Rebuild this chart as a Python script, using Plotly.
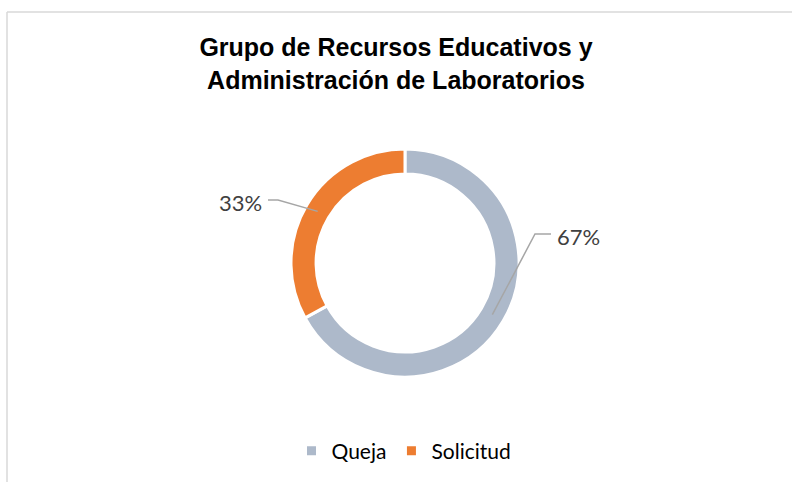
import math
import plotly.graph_objects as go

# ---- data ----
categories = ["Queja", "Solicitud"]
values = [67, 33]
colors = ["#ADB9CA", "#ED7D31"]
title_text = "Grupo de Recursos Educativos y<br>Administración de Laboratorios"

W, H = 792, 482
# donut geometry (pixels)
CX, CY, R = 405, 263, 114
HOLE = 0.78

def px(x):
    return x / W

def py(y):
    return 1 - y / H

fig = go.Figure()
fig.add_trace(go.Pie(
    labels=categories,
    values=values,
    marker=dict(colors=colors, line=dict(color="white", width=3)),
    hole=HOLE,
    sort=False,
    direction="clockwise",
    rotation=0,
    textinfo="none",
    hoverinfo="label+percent",
    domain=dict(x=[px(CX - R), px(CX + R)], y=[py(CY + R), py(CY - R)]),
    showlegend=True,
))

# leader lines + percentage labels, derived from the data
total = sum(values)
# (elbow dx, elbow dy, horizontal run) per slice, in pixels relative to center
label_style = [
    dict(ex=130, ey=-29, run=16, anchor="left"),
    dict(ex=-127, ey=-63, run=-10, anchor="right"),
]
shapes = []
annotations = []
cum = 0
r_mid = R * (1 + HOLE) / 2
for v, st in zip(values, label_style):
    theta = math.radians((cum + v / 2) / total * 360)
    cum += v
    sx = CX + r_mid * math.sin(theta)
    sy = CY - r_mid * math.cos(theta)
    ex, ey = CX + st["ex"], CY + st["ey"]
    hx = ex + st["run"]
    path = f"M {px(sx)} {py(sy)} L {px(ex)} {py(ey)} L {px(hx)} {py(ey)}"
    shapes.append(dict(type="path", xref="paper", yref="paper", path=path,
                       line=dict(color="#A6A6A6", width=1.5)))
    pct = round(v / total * 100)
    tx = hx + (4 if st["anchor"] == "left" else -4)
    annotations.append(dict(
        x=px(tx), y=py(ey + 2), xref="paper", yref="paper",
        text=f"{pct}%", showarrow=False, xanchor=st["anchor"], yanchor="middle",
        font=dict(family="Lato", size=22, color="#404040"),
    ))

# chart-area border (top and left edges visible)
shapes.append(dict(type="line", xref="paper", yref="paper",
                   x0=px(7), x1=1.01, y0=py(12), y1=py(12),
                   line=dict(color="#D9D9D9", width=1.5)))
shapes.append(dict(type="line", xref="paper", yref="paper",
                   x0=px(7), x1=px(7), y0=py(12), y1=-0.01,
                   line=dict(color="#D9D9D9", width=1.5)))

fig.update_layout(
    width=W, height=H,
    margin=dict(l=0, r=0, t=0, b=0),
    paper_bgcolor="white",
    plot_bgcolor="white",
    title=dict(
        text=f"<b>{title_text}</b>",
        x=0.5, xanchor="center",
        y=1 - 56 / H, yanchor="top", yref="container",
        font=dict(family="Liberation Sans, Arial", size=25, color="black"),
    ),
    legend=dict(
        orientation="h", x=0.5 + 8 / W, xanchor="center", y=py(451), yanchor="middle",
        font=dict(family="Lato", size=21, color="black"),
        itemwidth=30,
        traceorder="normal",
    ),
    shapes=shapes,
    annotations=annotations,
)

fig.write_html(
    "out.html",
    config={"displayModeBar": False},
    post_script="document.body.style.margin='0';document.body.style.overflow='hidden';",
)
